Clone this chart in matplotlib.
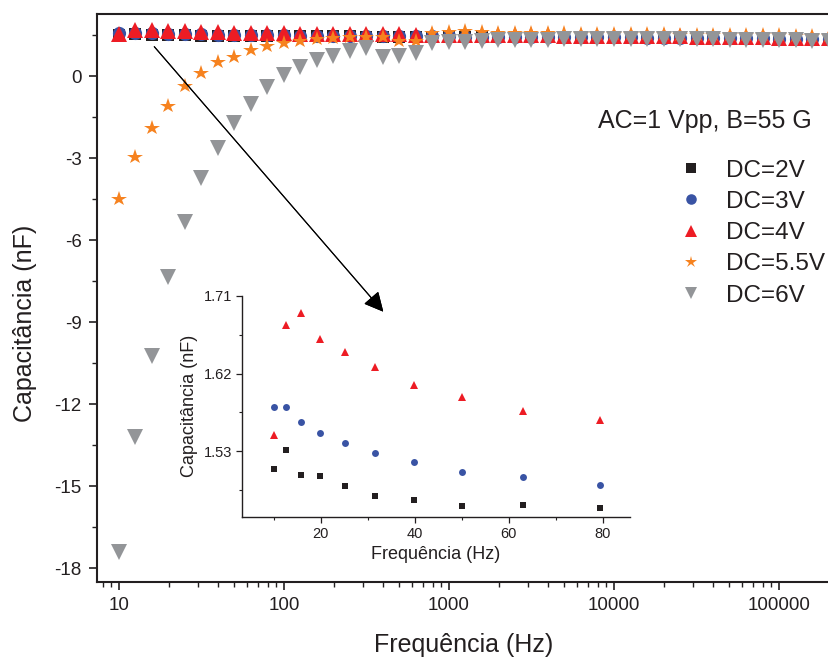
import matplotlib.pyplot as plt
from matplotlib.ticker import MultipleLocator, FixedLocator, NullFormatter, LogLocator, ScalarFormatter

plt.rcParams['font.family'] = ['Liberation Sans', 'DejaVu Sans']
plt.rcParams['axes.unicode_minus'] = False

# frequency points (Hz)
freq = [10, 12.59, 15.85, 19.95, 25.12, 31.62, 39.81, 50.12, 63.10, 79.43,
        100, 125.9, 158.5, 199.5, 251.2, 316.2, 398.1, 501.2, 631.0, 794.3,
        1000, 1259, 1585, 1995, 2512, 3162, 3981, 5012, 6310, 7943,
        10000, 12589, 15849, 19953, 25119, 31623, 39811, 50119, 63096, 79433,
        100000, 125893, 158489, 199526]

dc2 = [1.509, 1.531, 1.503, 1.501, 1.490, 1.478, 1.474, 1.467, 1.468, 1.464,
       1.460, 1.457, 1.454, 1.451, 1.448, 1.445, 1.442, 1.440, 1.437, 1.435,
       1.432, 1.430, 1.427, 1.425, 1.422, 1.420, 1.417, 1.414, 1.411, 1.408,
       1.405, 1.402, 1.398, 1.394, 1.390, 1.386, 1.381, 1.376, 1.370, 1.364,
       1.357, 1.350, 1.342, 1.333]
dc3 = [1.581, 1.581, 1.564, 1.551, 1.540, 1.528, 1.518, 1.506, 1.500, 1.491,
       1.486, 1.481, 1.476, 1.472, 1.468, 1.464, 1.460, 1.457, 1.454, 1.451,
       1.448, 1.445, 1.442, 1.439, 1.436, 1.433, 1.430, 1.427, 1.424, 1.420,
       1.417, 1.413, 1.409, 1.405, 1.401, 1.396, 1.391, 1.386, 1.380, 1.374,
       1.367, 1.360, 1.352, 1.343]
dc4 = [1.549, 1.676, 1.690, 1.660, 1.645, 1.627, 1.607, 1.593, 1.577, 1.566,
       1.558, 1.551, 1.545, 1.540, 1.535, 1.530, 1.526, 1.522, 1.518, 1.514,
       1.510, 1.506, 1.502, 1.498, 1.494, 1.490, 1.486, 1.482, 1.478, 1.474,
       1.470, 1.465, 1.460, 1.455, 1.450, 1.444, 1.438, 1.432, 1.425, 1.418,
       1.410, 1.402, 1.393, 1.383]
dc55 = [-4.50, -2.95, -1.91, -1.10, -0.37, 0.10, 0.50, 0.71, 0.95, 1.10,
        1.21, 1.30, 1.36, 1.39, 1.42, 1.44, 1.44, 1.27, 1.28, 1.56,
        1.60, 1.64, 1.60, 1.59, 1.58, 1.57, 1.56, 1.56, 1.55, 1.55,
        1.54, 1.54, 1.53, 1.53, 1.52, 1.52, 1.51, 1.51, 1.50, 1.50,
        1.49, 1.48, 1.47, 1.46]
dc6 = [-17.42, -13.21, -10.24, -7.35, -5.34, -3.74, -2.65, -1.73, -1.02, -0.41,
       0.04, 0.32, 0.58, 0.72, 0.92, 1.01, 0.68, 0.73, 0.85, 1.22,
       1.23, 1.26, 1.30, 1.31, 1.32, 1.33, 1.33, 1.34, 1.34, 1.34,
       1.34, 1.34, 1.34, 1.34, 1.34, 1.34, 1.34, 1.33, 1.33, 1.32,
       1.32, 1.31, 1.30, 1.28]

labels = ['DC=2V', 'DC=3V', 'DC=4V', 'DC=5.5V', 'DC=6V']
colors = ['#231f20', '#3953a4', '#ed1c24', '#f6821f', '#939598']
markers = ['s', 'o', '^', '*', 'v']
sizes = [9, 9.5, 11.3, 11.5, 11]
series = [dc2, dc3, dc4, dc55, dc6]

W, H = 829, 659
fig = plt.figure(figsize=(W / 100, H / 100), dpi=100)

# main axes
ax = fig.add_axes([97 / W, 1 - 582 / H, (831 - 97) / W, (582 - 14) / H])
for y, lab, c, m, s in zip(series, labels, colors, markers, sizes):
    ax.plot(freq, y, linestyle='none', marker=m, ms=s, color=c, mew=0, label=lab)

ax.set_xscale('log')
ax.set_xlim(10 ** 0.867, 10 ** 5.315)
ax.set_ylim(-18.51, 2.27)
ax.xaxis.set_major_locator(FixedLocator([10, 100, 1000, 10000, 100000]))
ax.xaxis.set_major_formatter(ScalarFormatter())
ax.xaxis.set_minor_locator(LogLocator(base=10, subs=range(2, 10)))
ax.xaxis.set_minor_formatter(NullFormatter())
ax.yaxis.set_major_locator(MultipleLocator(3))
ax.yaxis.set_minor_locator(MultipleLocator(1.5))
ax.tick_params(which='major', direction='out', length=6, width=1.2,
               labelsize=13.5, colors='#231f20', pad=5)
ax.tick_params(which='minor', direction='out', length=3.5, width=1.0, colors='#231f20')
for sp in ax.spines.values():
    sp.set_linewidth(1.5)
    sp.set_color('#231f20')

ax.set_xlabel('Frequência (Hz)', fontsize=18, color='#231f20')
ax.set_ylabel('Capacitância (nF)', fontsize=18, color='#231f20')
ax.xaxis.set_label_coords(0.5, -0.09)
ax.yaxis.set_label_coords(-0.082, 0.455)

leg = ax.legend(loc='upper left', bbox_to_anchor=(657 / W, 1 - 150 / H),
                bbox_transform=fig.transFigure, frameon=False, fontsize=17.5,
                markerscale=0.8, labelspacing=0.38, borderaxespad=0,
                handletextpad=0.45)
for t in leg.get_texts():
    t.set_color('#231f20')

fig.text(705 / W, 1 - 121 / H, 'AC=1 Vpp, B=55 G', fontsize=18,
         ha='center', va='center', color='#231f20')

# inset
ax2 = fig.add_axes([242 / W, 1 - 517 / H, (630 - 242) / W, (517 - 295.7) / H])
ax2.patch.set_alpha(0)
ins_sizes = [4.8, 5.0, 5.6]
for y, c, m, s in zip(series[:3], colors[:3], markers[:3], ins_sizes):
    ax2.plot(freq[:10], y[:10], linestyle='none', marker=m, ms=s, color=c, mew=0)
ax2.set_xlim(3.3, 85.8)
ax2.set_ylim(1.454, 1.71)
ax2.set_xticks([20, 40, 60, 80])
ax2.xaxis.set_minor_locator(FixedLocator([10, 30, 50, 70]))
ax2.set_yticks([1.53, 1.62, 1.71])
ax2.set_yticklabels(['1.53', '1.62', '1.71'])
ax2.yaxis.set_minor_locator(FixedLocator([1.485, 1.575, 1.665]))
ax2.spines['top'].set_visible(False)
ax2.spines['right'].set_visible(False)
for sp in ax2.spines.values():
    sp.set_linewidth(1.0)
    sp.set_color('#231f20')
ax2.tick_params(which='major', direction='out', length=4, width=0.9,
                labelsize=10.5, colors='#231f20', pad=3)
ax2.tick_params(which='minor', direction='out', length=2.5, width=0.8, colors='#231f20')
ax2.set_xlabel('Frequência (Hz)', fontsize=13, color='#231f20')
ax2.set_ylabel('Capacitância (nF)', fontsize=13, color='#231f20')

# arrow pointing to inset
fig.add_artist(plt.annotate('', xy=(383.3 / W, 1 - 311.7 / H), xycoords='figure fraction',
                            xytext=(154.3 / W, 1 - 46.7 / H), textcoords='figure fraction',
                            arrowprops=dict(arrowstyle='-|>,head_length=0.6,head_width=0.3',
                                            mutation_scale=20, lw=0.8, color='black',
                                            shrinkA=0, shrinkB=0)))

fig.savefig('out.png', dpi=100)
